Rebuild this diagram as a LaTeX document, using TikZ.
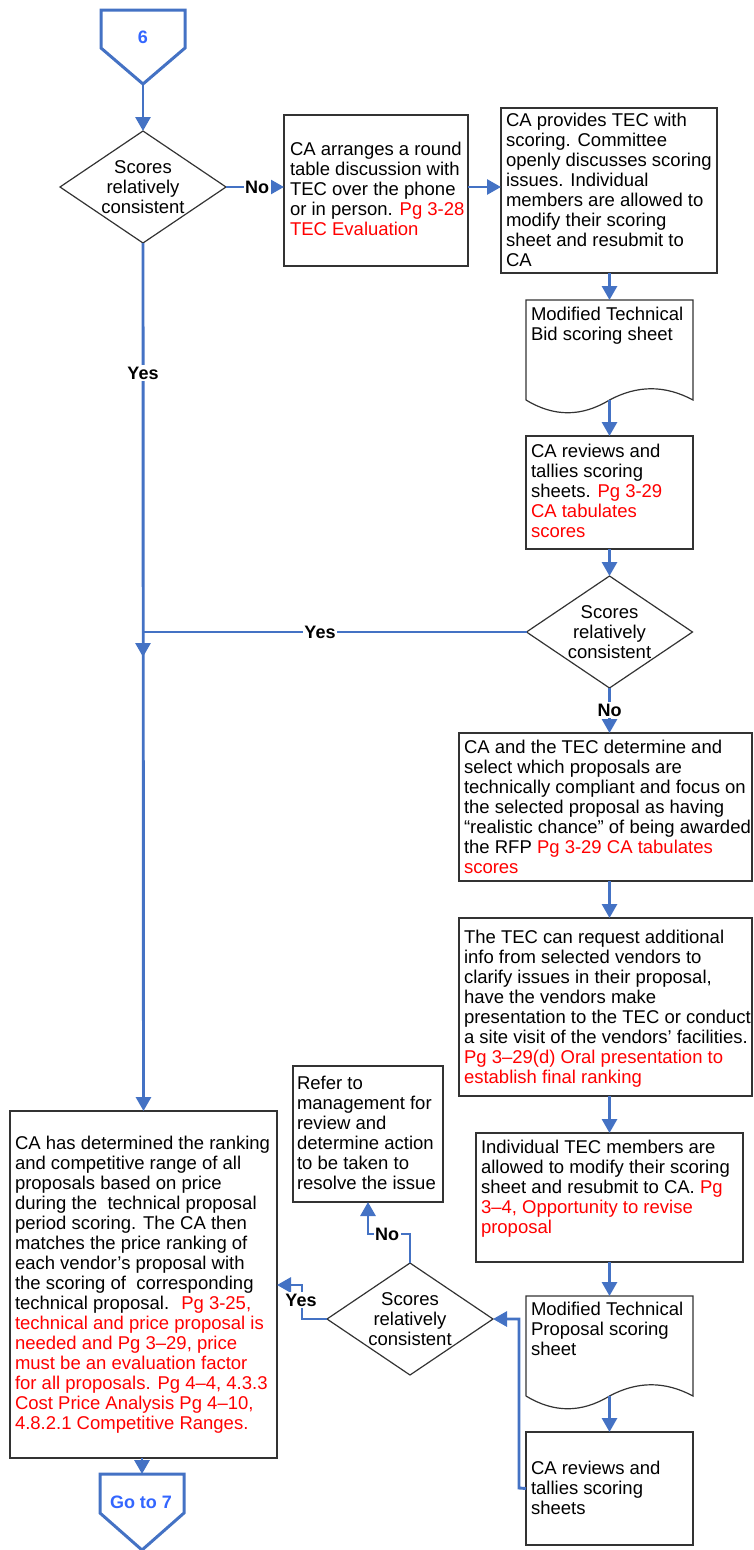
\documentclass[tikz,border=0pt]{standalone}
\usepackage{fontspec}
\setmainfont{Liberation Sans}
\usetikzlibrary{shapes.geometric,arrows.meta,calc}
\definecolor{flowblue}{RGB}{68,114,196}
\definecolor{termblue}{RGB}{51,102,255}
\newcommand\pg[1]{\textcolor{red}{#1}}

\begin{document}
\begin{tikzpicture}[x=1pt,y=-1pt,
  every node/.style={inner sep=0pt, outer sep=0pt},
  boxline/.style={draw=black!80, line width=1.2pt},
  procbox/.style={rectangle, boxline},
  docframe/.style={rectangle},
  decision/.style={diamond, boxline, minimum width=166pt, minimum height=112pt},
  termframe/.style={rectangle, minimum width=84pt},
  termline/.style={draw=flowblue, line width=3pt, line join=miter},
  termtext/.style={font=\bfseries\fontsize{18}{20}\selectfont, text=termblue},
  bodytext/.style={font=\fontsize{18.5}{20}\selectfont, align=left, anchor=north west},
  dectext/.style={font=\fontsize{18.5}{20}\selectfont, align=center},
  flow/.style={draw=flowblue, line width=2.9pt, -{Triangle[length=14pt,width=15pt]}},
  flowlabel/.style={font=\bfseries\fontsize{18}{20}\selectfont, fill=white, inner sep=1.5pt}
]
\useasboundingbox (0,0) rectangle (753,1550);

% ---------- off-page connector 6 ----------
\node[termframe, minimum height=74pt] (c6) at (143,47) {};
\draw[termline] (c6.north west) -- (c6.north east) -- ($(c6.north east)+(0,38)$)
  -- (c6.south) -- ($(c6.north west)+(0,38)$) -- cycle;
\node[termtext] (c6t) at (143,37.5) {6};

% ---------- first decision ----------
\node[decision] (dia1) at (143,187) {};
\node[dectext] (dia1t) at (dia1.center) {Scores\\relatively\\consistent};

% ---------- round table ----------
\node[procbox, minimum width=184pt, minimum height=151pt] (b1) at (376,190.5) {};
\node[bodytext] (b1t) at (290,142.4) {CA arranges a round\\table discussion with\\TEC over the phone\\or in person. \pg{Pg 3-28}\\\pg{TEC Evaluation}};

% ---------- committee discussion ----------
\node[procbox, minimum width=216pt, minimum height=165pt] (b2) at (609,190.5) {};
\node[bodytext] (b2t) at (506,113.4) {CA provides TEC with\\scoring. Committee\\openly discusses scoring\\issues. Individual\\members are allowed to\\modify their scoring\\sheet and resubmit to\\CA};

% ---------- modified bid scoring sheet (document) ----------
\node[docframe, minimum width=167pt, minimum height=100pt] (d1) at (609.5,350) {};
\draw[boxline] (d1.south west) -- (d1.north west) -- (d1.north east) -- (d1.south east)
  .. controls ($(d1.south east)+(-28,-15)$) and ($(d1.south)+(28,-15)$) .. (d1.south)
  .. controls ($(d1.south)+(-28,17)$) and ($(d1.south west)+(28,17)$) .. (d1.south west);
\node[bodytext] (d1t) at (531,307.4) {Modified Technical\\Bid scoring sheet};

% ---------- tally ----------
\node[procbox, minimum width=167pt, minimum height=113pt] (b3) at (609.5,492.5) {};
\node[bodytext] (b3t) at (531,444.4) {CA reviews and\\tallies scoring\\sheets. \pg{Pg 3-29}\\\pg{CA tabulates}\\\pg{scores}};

% ---------- second decision ----------
\node[decision] (dia2) at (609.5,632) {};
\node[dectext] (dia2t) at (dia2.center) {Scores\\relatively\\consistent};

% ---------- compliance selection ----------
\node[procbox, minimum width=293pt, minimum height=148pt] (b5) at (605.5,807) {};
\node[bodytext] (b5t) at (464,740.4) {CA and the TEC determine and\\select which proposals are\\technically compliant and focus on\\the selected proposal as having\\“realistic chance” of being awarded\\the RFP \pg{Pg 3-29 CA tabulates}\\\pg{scores}};

% ---------- additional info ----------
\node[procbox, minimum width=293pt, minimum height=178pt] (b6) at (605.5,1007) {};
\node[bodytext] (b6t) at (464,930.4) {The TEC can request additional\\info from selected vendors to\\clarify issues in their proposal,\\have the vendors make\\presentation to the TEC or conduct\\a site visit of the vendors’ facilities.\\\pg{Pg 3–29(d) Oral presentation to}\\\pg{establish final ranking}};

% ---------- revise scoring ----------
\node[procbox, minimum width=267pt, minimum height=129pt] (b7) at (609.5,1197.5) {};
\node[bodytext] (b7t) at (481,1140.4) {Individual TEC members are\\allowed to modify their scoring\\sheet and resubmit to CA. \pg{Pg}\\\pg{3–4, Opportunity to revise}\\\pg{proposal}};

% ---------- modified proposal scoring sheet (document) ----------
\node[docframe, minimum width=167pt, minimum height=100pt] (d2) at (609.5,1346) {};
\draw[boxline] (d2.south west) -- (d2.north west) -- (d2.north east) -- (d2.south east)
  .. controls ($(d2.south east)+(-28,-15)$) and ($(d2.south)+(28,-15)$) .. (d2.south)
  .. controls ($(d2.south)+(-28,17)$) and ($(d2.south west)+(28,17)$) .. (d2.south west);
\node[bodytext] (d2t) at (531,1302.4) {Modified Technical\\Proposal scoring\\sheet};

% ---------- final tally ----------
\node[procbox, minimum width=167pt, minimum height=113pt] (b8) at (609.5,1488.5) {};
\node[bodytext] (b8t) at (531,1461.4) {CA reviews and\\tallies scoring\\sheets};

% ---------- third decision ----------
\node[decision] (dia3) at (410,1319) {};
\node[dectext] (dia3t) at (dia3.center) {Scores\\relatively\\consistent};

% ---------- escalation ----------
\node[procbox, minimum width=150pt, minimum height=136pt] (b9) at (368,1134) {};
\node[bodytext] (b9t) at (297,1075.9) {Refer to\\management for\\review and\\determine action\\to be taken to\\resolve the issue};

% ---------- price ranking ----------
\node[procbox, minimum width=267pt, minimum height=347pt] (b4) at (143.5,1284.5) {};
\node[bodytext] (b4t) at (15,1136.4) {CA has determined the ranking\\and competitive range of all\\proposals based on price\\during the \ technical proposal\\period scoring. The CA then\\matches the price ranking of\\each vendor’s proposal with\\the scoring of \ corresponding\\technical proposal. \ \pg{Pg 3-25,}\\\pg{technical and price proposal is}\\\pg{needed and Pg 3–29, price}\\\pg{must be an evaluation factor}\\\pg{for all proposals. Pg 4–4, 4.3.3}\\\pg{Cost Price Analysis Pg 4–10,}\\\pg{4.8.2.1 Competitive Ranges.}};

% ---------- off-page connector 7 ----------
\node[termframe, minimum height=76pt] (c7) at (142,1512) {};
\draw[termline] (c7.north west) -- (c7.north east) -- ($(c7.north east)+(0,39)$)
  -- (c7.south) -- ($(c7.north west)+(0,39)$) -- cycle;
\node[termtext] (c7t) at (141,1502) {Go to 7};

% ---------- connectors ----------
\coordinate (join) at (143,657);
\coordinate (rb) at (519,1488);
\coordinate (nb) at (368,1234);
\coordinate (yb) at (302,1285);

\draw[flow] (c6.south) -- (dia1.north);
\draw[flow] (dia1.east) -- (dia1.east -| b1.west);
\draw[flow] (dia1.east -| b1.east) -- (dia1.east -| b2.west);
\draw[flow] (b2.south -| d1.north) -- (d1.north);
\draw[flow] (d1.south) -- (b3.north);
\draw[flow] (b3.south) -- (dia2.north);
\draw[flow] (dia2.west) -| (join);
\draw[flow] (dia2.south) -- (b5.north -| dia2.south);
\draw[flow] (b5.south -| dia2.south) -- (b6.north -| dia2.south);
\draw[flow] (b6.south -| b7.north) -- (b7.north);
\draw[flow] (b7.south) -- (d2.north);
\draw[flow] (d2.south) -- (b8.north);
\draw[flow] (b8.west) -- (rb) |- (dia3.east);
\draw[flow] (dia3.north) |- (nb) -- (b9.south);
\draw[flow] (dia3.west) -| (yb) -- (yb -| b4.east);
\draw[flow] (dia1.south) -- (b4.north);
\draw[flow] (b4.south -| c7.north) -- (c7.north);

% ---------- connector labels ----------
\node[flowlabel] (lno1) at (257,187) {No};
\node[flowlabel] (lyes1) at (143,373) {Yes};
\node[flowlabel] (lyes2) at (320,632) {Yes};
\node[flowlabel] (lno2) at (609.5,710) {No};
\node[flowlabel] (lno3) at (387,1234) {No};
\node[flowlabel] (lyes3) at (301,1300) {Yes};

\end{tikzpicture}
\end{document}
